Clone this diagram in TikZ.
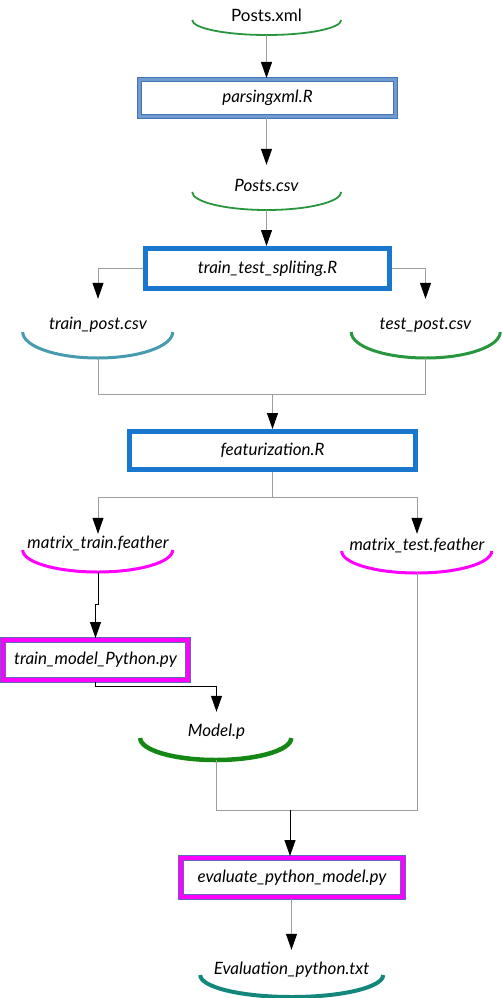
\documentclass[tikz,border=0pt]{standalone}
\usepackage{fontspec}
\setmainfont{Lato}
\usetikzlibrary{arrows.meta,positioning}
\definecolor{pSteel}{RGB}{110,155,208}
\definecolor{pSteelD}{RGB}{70,115,180}
\definecolor{pBlue}{RGB}{25,120,205}
\definecolor{pMag}{RGB}{255,0,255}
\definecolor{pMagD}{RGB}{95,105,185}
\definecolor{pGreen}{RGB}{40,150,60}
\definecolor{pTeal}{RGB}{70,155,175}
\definecolor{pDGreen}{RGB}{20,135,20}
\definecolor{pDTeal}{RGB}{20,135,125}
\definecolor{pLine}{gray}{0.62}
\newcommand{\flowfont}{\fontsize{17}{20}\selectfont}
\tikzset{
    file/.style={inner sep=0pt, minimum width=149pt, minimum height=40pt, font=\flowfont\itshape},
    procS/.style={draw=pSteel, line width=3pt, preaction={draw=pSteelD, line width=5pt}, inner sep=0pt, font=\flowfont\itshape},
    procB/.style={draw=pBlue, line width=5pt, inner sep=0pt, font=\flowfont\itshape},
    procM/.style={draw=pMag, line width=4pt, preaction={draw=pMagD, line width=6pt}, inner sep=0pt, font=\flowfont\itshape},
    wire/.style={draw=pLine, line width=1pt},
    conn/.style={wire, -{Triangle[length=16pt,width=11pt,color=black]}},
    connb/.style={conn, draw=black}
}
\begin{document}
\begin{tikzpicture}[x=1pt,y=-1pt]
\useasboundingbox (0,0) rectangle (501,998);
% data files
\node[file, font=\flowfont\upshape] (pxml) at (266.5, 15) {Posts.xml};
\node[file] (pcsv)   at (266.5,185) {Posts.csv};
\node[file] (trainp) at ( 98.0,325) {train\_post.csv};
\node[file] (testp)  at (425.5,325) {test\_post.csv};
\node[file] (mtrain) at ( 98.0,543) {matrix\_train.feather};
\node[file] (mtest)  at (417.0,545) {matrix\_test.feather};
\node[file] (model)  at (216.5,732) {Model.p};
\node[file, minimum width=183pt] (evalt) at (291.5,970) {Evaluation\_python.txt};
% scripts
\node[procS, minimum width=256pt, minimum height=37pt] (parse)   at (267.5, 98.0) {parsingxml.R};
\node[procB, minimum width=244pt, minimum height=40pt] (split)   at (267.5,268.5) {train\_test\_spliting.R};
\node[procB, minimum width=286pt, minimum height=38pt] (feat)    at (272.5,450.5) {featurization.R};
\node[procM, minimum width=185pt, minimum height=40pt] (trainpy) at ( 95.5,660.0) {train\_model\_Python.py};
\node[procM, minimum width=222pt, minimum height=39pt] (evalpy)  at (292.0,877.5) {evaluate\_python\_model.py};
% document arcs
\foreach \n/\rx/\ry/\dy/\c/\w in {pxml/74.5/15/5/pGreen/1.8, pcsv/74.5/18/7/pGreen/1.8,
    trainp/75/26/7/pTeal/3, testp/74.5/26/7/pGreen/3, mtrain/75/22/7/pMag/3,
    mtest/75/22/6/pMag/3, model/75.5/22/6/pDGreen/4.5, evalt/91.5/22/5/pDTeal/4}{
  \draw[\c, line width=\w pt] ([yshift=-\dy pt]\n.east) arc[start angle=0, end angle=180, x radius=\rx, y radius=\ry];
  \coordinate (\n-b) at ([yshift=-\dy pt-\ry pt]\n.center);
}
\coordinate (join1) at (272.5,394);
\coordinate (fork2) at (272.5,497);
\coordinate (join3) at (290,810);
% connectors
\draw[conn] (pxml-b) -- (pxml-b |- parse.north);
\draw[conn] (parse.south -| pcsv.north) -- (pcsv.north);
\draw[conn] (pcsv-b) -- (pcsv-b |- split.north);
\draw[conn, shorten >=6pt] (split.west) -| (trainp.north);
\draw[conn, shorten >=6pt] (split.east) -| (testp.north);
\draw[wire] (trainp-b) -- ++(0,36) -| (testp-b);
\draw[conn] (join1) -- (join1 |- feat.north);
\draw[wire] (feat.south) -- (fork2);
\draw[conn, shorten >=-11pt] (fork2) -| (mtrain.north);
\draw[conn, shorten >=-9pt] (fork2) -| (mtest.north);
\draw[connb] (mtrain-b) -- ++(0,32) -| (trainpy.north);
\draw[connb] (trainpy.south) -- ++(0,4) -| (model.north);
\draw[wire] (model-b) -- ++(0,50) -| (mtest-b);
\draw[connb] (join3) -- (join3 |- evalpy.north);
\draw[conn] (evalpy.south -| evalt.north) -- (evalt.north);
\end{tikzpicture}
\end{document}
